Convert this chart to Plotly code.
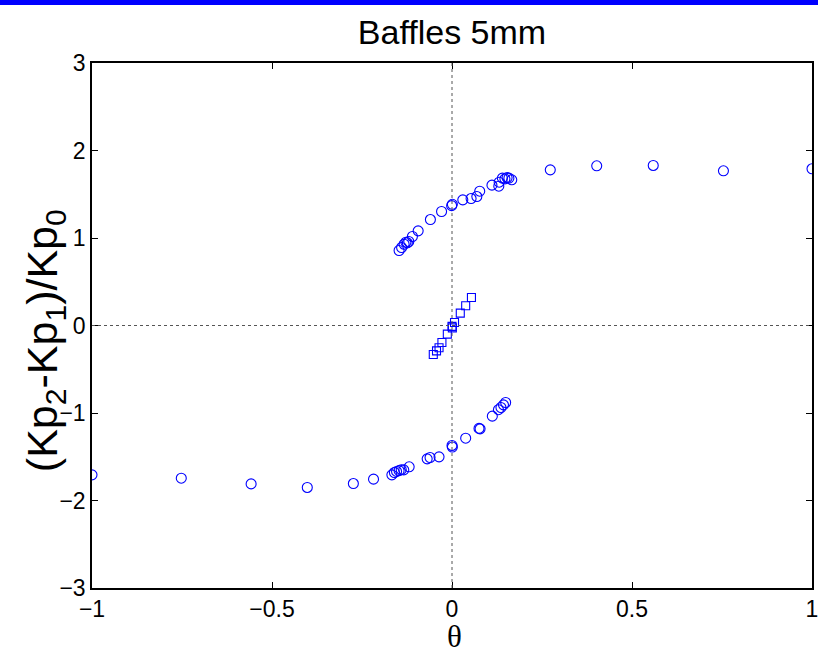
import plotly.graph_objects as go

# Upper branch (circles)
upper_theta = [-0.147, -0.140, -0.133, -0.128, -0.124, -0.120, -0.110, -0.094, -0.060, -0.029,
               -0.001, 0.001, 0.030, 0.053, 0.069, 0.077, 0.111, 0.130, 0.131, 0.140,
               0.147, 0.153, 0.158, 0.166, 0.273, 0.402, 0.559, 0.754, 1.000]
upper_val = [0.857, 0.891, 0.929, 0.952, 0.945, 0.960, 1.017, 1.082, 1.211, 1.303,
             1.370, 1.385, 1.436, 1.451, 1.474, 1.535, 1.604, 1.592, 1.638, 1.684,
             1.676, 1.690, 1.684, 1.665, 1.779, 1.825, 1.829, 1.768, 1.791]

# Lower branch (circles)
lower_theta = [-1.000, -0.752, -0.558, -0.402, -0.274, -0.218, -0.167, -0.160, -0.154, -0.147,
               -0.141, -0.134, -0.119, -0.069, -0.061, -0.036, 0.000, 0.001, 0.038, 0.078,
               0.075, 0.112, 0.129, 0.136, 0.143, 0.149]
lower_val = [-1.707, -1.745, -1.810, -1.851, -1.806, -1.756, -1.707, -1.680, -1.668, -1.659,
             -1.648, -1.650, -1.615, -1.524, -1.509, -1.501, -1.371, -1.389, -1.288, -1.181,
             -1.176, -1.036, -0.962, -0.937, -0.907, -0.880]

# Middle branch (squares)
mid_theta = [0.054, 0.038, 0.023, 0.007, 0.001, 0.000, -0.013, -0.028, -0.036, -0.043, -0.052]
mid_val = [0.320, 0.225, 0.141, 0.034, -0.027, -0.010, -0.099, -0.194, -0.255, -0.290, -0.331]

x_ticks = [-1, -0.5, 0, 0.5, 1]
x_tick_text = ["\u22121", "\u22120.5", "0", "0.5", "1"]
y_ticks = [-3, -2, -1, 0, 1, 2, 3]
y_tick_text = ["\u22123", "\u22122", "\u22121", "0", "1", "2", "3"]

blue = "#0000FF"
fig = go.Figure()
fig.add_trace(go.Scatter(x=upper_theta, y=upper_val, mode="markers",
                         marker=dict(symbol="circle-open", size=10, color=blue, line=dict(width=1.1)),
                         showlegend=False))
fig.add_trace(go.Scatter(x=lower_theta, y=lower_val, mode="markers",
                         marker=dict(symbol="circle-open", size=10, color=blue, line=dict(width=1.1)),
                         showlegend=False))
fig.add_trace(go.Scatter(x=mid_theta, y=mid_val, mode="markers",
                         marker=dict(symbol="square-open", size=8, color=blue, line=dict(width=1.1)),
                         showlegend=False))

axis_common = dict(showline=True, linecolor="black", linewidth=1.5, mirror="ticks",
                   ticks="inside", ticklen=6, tickcolor="black", tickwidth=1,
                   showgrid=False, zeroline=False, automargin=False,
                   ticklabeloverflow="allow",
                   tickfont=dict(family="Liberation Sans, Arial, sans-serif", size=23, color="black"))

fig.update_xaxes(range=[-1, 1], tickvals=x_ticks, ticktext=x_tick_text, **axis_common)
fig.update_yaxes(range=[-3, 3], tickvals=y_ticks, ticktext=y_tick_text, **axis_common)

# x-axis title (theta) as annotation
fig.add_annotation(text="\u03b8", xref="paper", yref="paper", x=0.503, y=-0.0915,
                   xanchor="center", yanchor="middle", showarrow=False,
                   font=dict(family="Liberation Serif, Times New Roman, serif", size=31, color="black"))

# y-axis title as rotated annotation
fig.add_annotation(text="(Kp<sub>2</sub>-Kp<sub>1</sub>)/Kp<sub>0</sub>", textangle=-90,
                   xref="paper", yref="paper", x=-0.0653, y=0.472,
                   xanchor="center", yanchor="middle", showarrow=False,
                   font=dict(family="Liberation Sans, Arial, sans-serif", size=43, color="black"))

# dotted zero lines
fig.add_shape(type="line", xref="x", yref="paper", x0=0, x1=0, y0=0, y1=1,
              line=dict(color="#555555", width=1, dash="dot"))
fig.add_shape(type="line", xref="paper", yref="y", x0=0, x1=1, y0=0, y1=0,
              line=dict(color="#555555", width=1, dash="dot"))
# blue strip at top of the page
fig.add_shape(type="rect", xref="paper", yref="paper", x0=-0.2, x1=1.1, y0=1.1105, y1=1.2,
              line=dict(width=0), fillcolor=blue, layer="above")

fig.update_layout(
    width=818, height=648,
    margin=dict(l=92, r=6, t=63, b=60),
    paper_bgcolor="white", plot_bgcolor="white",
    title=dict(text="Baffles 5mm", xref="paper", x=0.5, xanchor="center",
               yref="container", y=0.951, yanchor="middle",
               font=dict(family="Liberation Sans, Arial, sans-serif", size=34, color="black")),
)

fig.write_html("out.html")
